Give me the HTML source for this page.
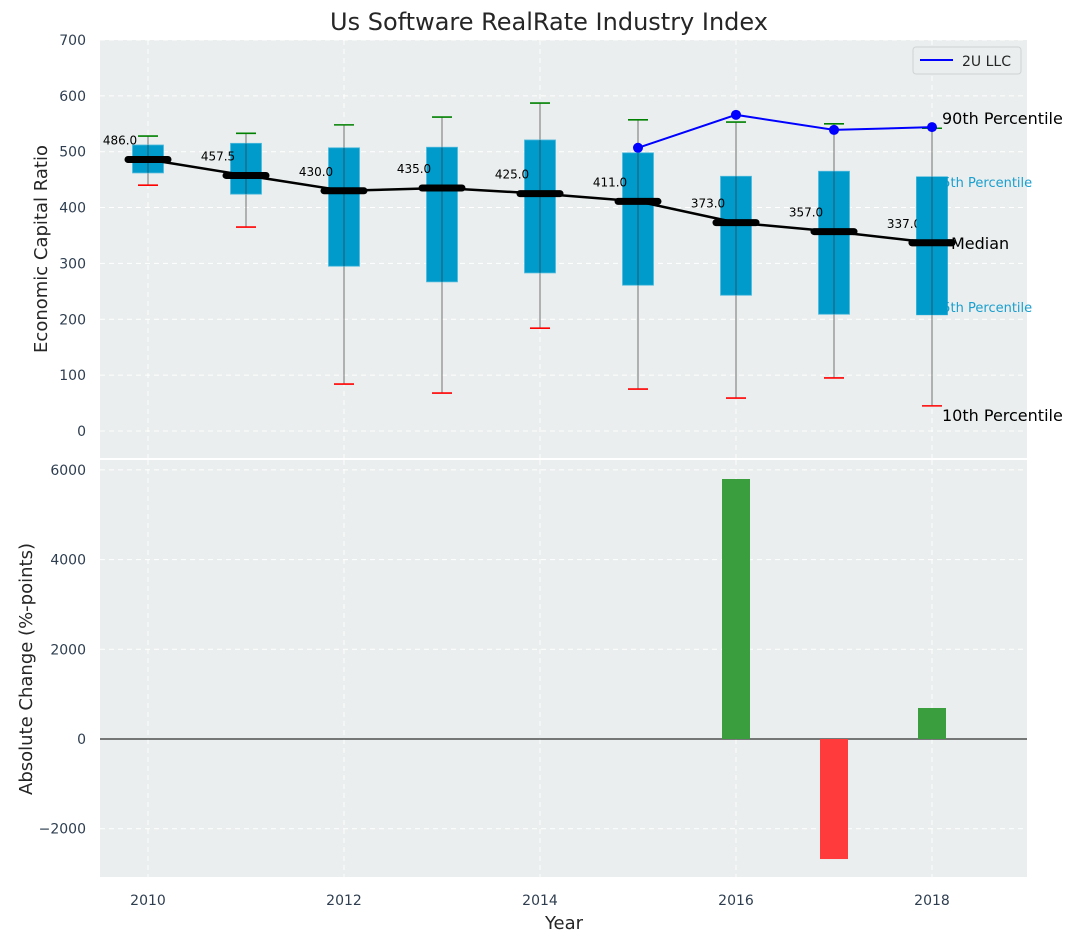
<!DOCTYPE html>
<html><head><meta charset="utf-8"><style>
body{margin:0;background:#fff;}
svg{display:block;font-family:"DejaVu Sans","Liberation Sans",sans-serif;}
</style></head><body>
<svg id="chart" width="1077" height="942" viewBox="0 0 1077 942" xmlns="http://www.w3.org/2000/svg">
<text x="549" y="30" text-anchor="middle" font-size="24" fill="#262626">Us Software RealRate Industry Index</text>
<rect x="100" y="40" width="927" height="418" fill="#eaeeee"/>
<rect x="100" y="460" width="927" height="417" fill="#eaeeee"/>
<g id="grid"></g>
<g id="marks"></g>
<g id="annot"></g>
<text transform="translate(47,249) rotate(-90)" text-anchor="middle" font-size="18" fill="#262626">Economic Capital Ratio</text>
<text transform="translate(32,669) rotate(-90)" text-anchor="middle" font-size="18" fill="#262626">Absolute Change (%-points)</text>
<text x="564" y="929" text-anchor="middle" font-size="18" fill="#262626">Year</text>
<g>
<rect x="913" y="47" width="108" height="27" rx="3" fill="#eaeeee" stroke="#cfd3d3"/>
<line x1="920" y1="60" x2="953" y2="60" stroke="#0000ff" stroke-width="2"/>
<text x="962" y="66" font-size="14" fill="#262626">2U LLC</text>
</g>
</svg>
<script>
const years=[2010,2011,2012,2013,2014,2015,2016,2017,2018];
const p10=[440,365,84,68,184,75,59,95,45];
const p25=[462,424,295,267,283,261,243,209,208];
const medians=[486.0,457.5,430.0,435.0,425.0,411.0,373.0,357.0,337.0];
const p75=[512,515,507,508,521,498,456,465,455];
const p90=[528,533,548,562,587,557,553,550,542];
const companyYears=[2015,2016,2017,2018];
const companyValues=[507,566,539,544];
const changeYears=[2016,2017,2018];
const changeValues=[5797,-2676,691];
const topTicks=[0,100,200,300,400,500,600,700];
const botTicks=[-2000,0,2000,4000,6000];
const xTicks=[2010,2012,2014,2016,2018];

const NS='http://www.w3.org/2000/svg';
const X=y=>148+(y-2010)*98;
const Yt=v=>431-v*0.5586;
const Yb=v=>739-v*0.04485;
function el(tag,attrs,parent,txt){const e=document.createElementNS(NS,tag);for(const k in attrs)e.setAttribute(k,attrs[k]);if(txt!==undefined)e.textContent=txt;parent.appendChild(e);return e;}
const grid=document.getElementById('grid'),marks=document.getElementById('marks'),annot=document.getElementById('annot');
const dash={stroke:'#fff','stroke-dasharray':'5,4','stroke-width':1};
topTicks.forEach(t=>{
 const l=el('line',Object.assign({x1:100,x2:1027,y1:Yt(t),y2:Yt(t)},dash),grid);
 
 const tx=el('text',{x:86,y:Yt(t)+5,'text-anchor':'end','font-size':14,fill:'#2e3e50'},grid,t);
 
});
botTicks.forEach(t=>{
 const l=el('line',Object.assign({x1:100,x2:1027,y1:Yb(t),y2:Yb(t)},dash),grid);
 
 const tx=el('text',{x:86,y:Yb(t)+5,'text-anchor':'end','font-size':14,fill:'#2e3e50'},grid,t<0?'\u2212'+(-t):t);
 
});
xTicks.forEach(t=>{
 [[40,458],[460,877]].forEach(r=>{const l=el('line',Object.assign({x1:X(t),x2:X(t),y1:r[0],y2:r[1]},dash),grid);
 });
 const tx=el('text',{x:X(t),y:905,'text-anchor':'middle','font-size':14,fill:'#2e3e50'},grid,t);
 
});
const z=el('line',{x1:100,x2:1027,y1:Yb(0),y2:Yb(0),stroke:'#000','stroke-width':1},marks);

years.forEach((y,i)=>{
 const x=X(y);
 const w=el('line',{x1:x,x2:x,y1:Yt(p90[i]),y2:Yt(p10[i]),stroke:'#888','stroke-width':1.2},marks);
 
 const b=el('rect',{x:x-15.5,y:Yt(p75[i]),width:31,height:Yt(p25[i])-Yt(p75[i]),fill:'#009bcb',stroke:'#4fb9dc','stroke-width':0.8},marks);
 
 const w2=el('line',{x1:x,x2:x,y1:Yt(p75[i]),y2:Yt(p25[i]),stroke:'#1a5a70','stroke-width':1},marks);
 
 const c1=el('line',{x1:x-10,x2:x+10,y1:Yt(p90[i]),y2:Yt(p90[i]),stroke:'#008000','stroke-width':1.6},marks);
 
 const c2=el('line',{x1:x-10,x2:x+10,y1:Yt(p10[i]),y2:Yt(p10[i]),stroke:'#ff0000','stroke-width':1.6},marks);
 
});
const pts=years.map((y,i)=>X(y)+','+Yt(medians[i])).join(' ');
const ml=el('polyline',{points:pts,fill:'none',stroke:'#000','stroke-width':2.5},marks);

years.forEach((y,i)=>{
 const m=el('line',{x1:X(y)-20,x2:X(y)+20,y1:Yt(medians[i]),y2:Yt(medians[i]),stroke:'#000','stroke-width':7,'stroke-linecap':'round'},marks);
 
 const t=el('text',{x:X(y)-28,y:Yt(medians[i])-15,'text-anchor':'middle','font-size':12,fill:'#000'},marks,medians[i].toFixed(1));
 
});
const cp=companyYears.map((y,i)=>X(y)+','+Yt(companyValues[i])).join(' ');
const cl=el('polyline',{points:cp,fill:'none',stroke:'#0000ff','stroke-width':2},marks);

companyYears.forEach((y,i)=>{
 const c=el('circle',{cx:X(y),cy:Yt(companyValues[i]),r:5,fill:'#0000ff'},marks);
 
});
changeYears.forEach((y,i)=>{
 const v=changeValues[i];
 const b=el('rect',{x:X(y)-14,y:Math.min(Yb(v),Yb(0)),width:28,height:Math.abs(Yb(v)-Yb(0)),fill:v>=0?'#3a9d3e':'#ff3b3b'},marks);
 
});
const last=years.length-1,lx=X(years[last]);
[['90th Percentile',lx+10,Yt(p90[last])-4,16,'#000'],['75th Percentile',lx+2,Yt(p75[last])+10,13,'#1a9fcf'],['Median',lx+19,Yt(medians[last])+6,16,'#000'],['25th Percentile',lx+2,Yt(p25[last])-3,13,'#1a9fcf'],['10th Percentile',lx+10,Yt(p10[last])+15,16,'#000']].forEach(a=>{
 const t=el('text',{x:a[1],y:a[2],'font-size':a[3],fill:a[4]},annot,a[0]);
 
});
const lb=el('rect',{x:lx-15.5,y:Yt(p75[last]),width:31,height:Yt(p25[last])-Yt(p75[last]),fill:'#009bcb'},annot);

const lw=el('line',{x1:lx,x2:lx,y1:Yt(p75[last]),y2:Yt(p25[last]),stroke:'#1a5a70'},annot);

const lm=el('line',{x1:lx-20,x2:lx+20,y1:Yt(medians[last]),y2:Yt(medians[last]),stroke:'#000','stroke-width':7,'stroke-linecap':'round'},annot);

</script>
</body></html>
